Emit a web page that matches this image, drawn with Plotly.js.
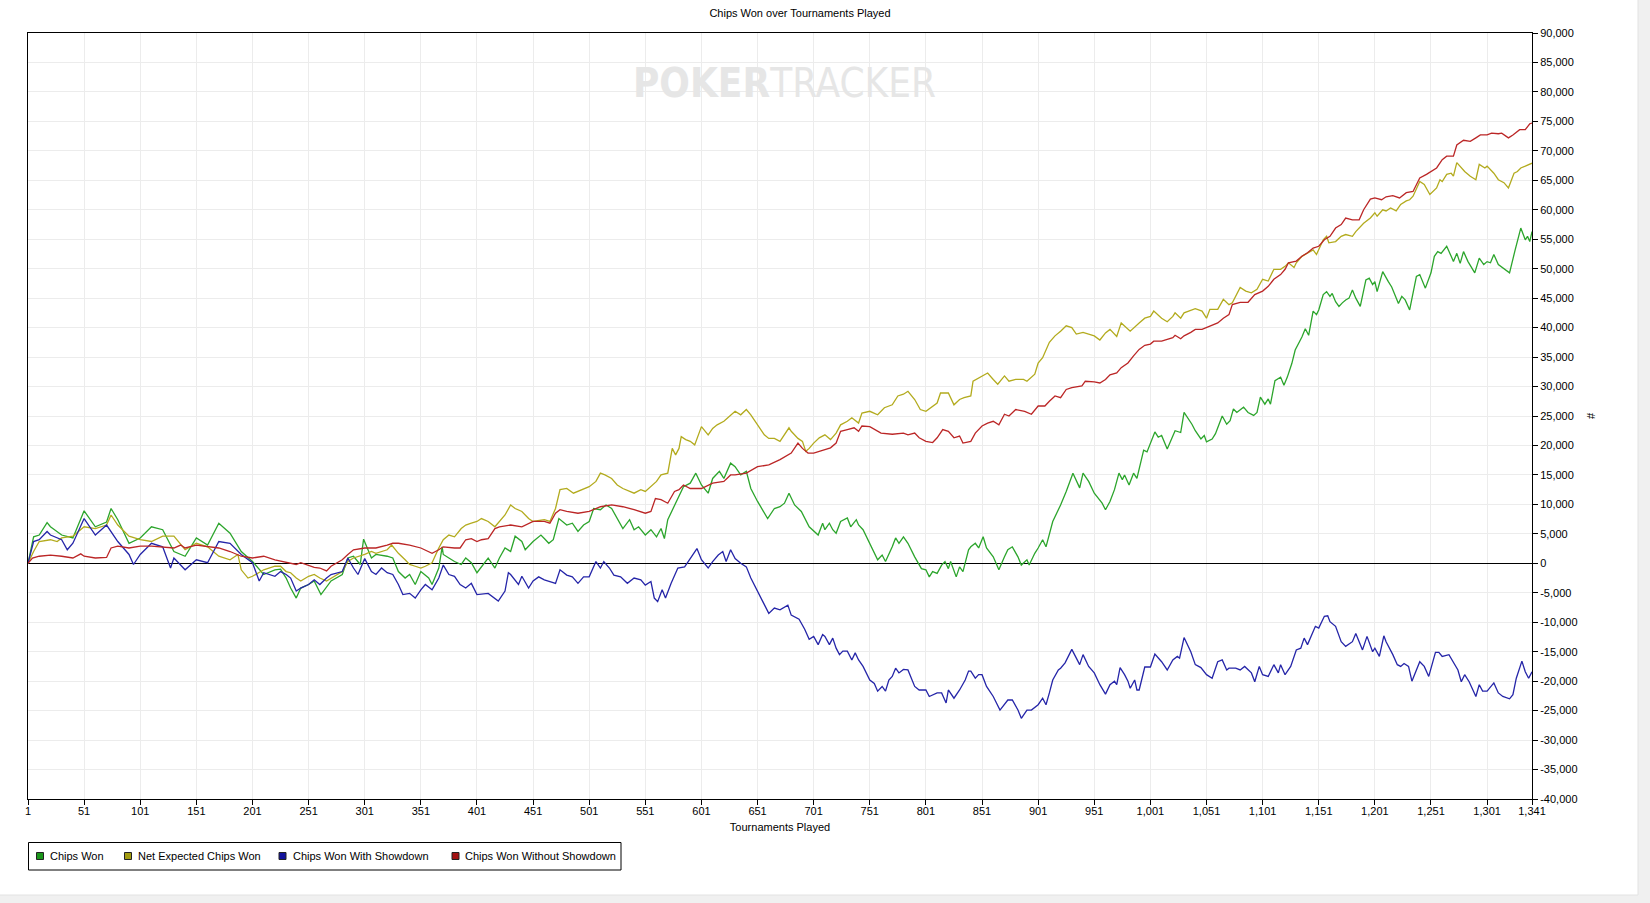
<!DOCTYPE html>
<html>
<head>
<meta charset="utf-8">
<script src="https://cdn.plot.ly/plotly-3.0.1.min.js"></script>
<style>
  html, body { margin: 0; padding: 0; background: #ffffff; }
  #chart { width: 1650px; height: 903px; }
</style>
</head>
<body>
<div id="chart"></div>
<script>
// ---------- DATA ----------
const chartTitle = "Chips Won over Tournaments Played";
const xAxisTitle = "Tournaments Played";
const yAxisTitle = "#";
const seriesNames = ["Chips Won", "Net Expected Chips Won", "Chips Won With Showdown", "Chips Won Without Showdown"];

const xTickVals = [1, 51, 101, 151, 201, 251, 301, 351, 401, 451, 501, 551, 601, 651, 701, 751, 801, 851, 901, 951, 1001, 1051, 1101, 1151, 1201, 1251, 1301, 1341];
const xTickText = ["1", "51", "101", "151", "201", "251", "301", "351", "401", "451", "501", "551", "601", "651", "701", "751", "801", "851", "901", "951", "1,001", "1,051", "1,101", "1,151", "1,201", "1,251", "1,301", "1,341"];
const yTickVals = [90000, 85000, 80000, 75000, 70000, 65000, 60000, 55000, 50000, 45000, 40000, 35000, 30000, 25000, 20000, 15000, 10000, 5000, 0, -5000, -10000, -15000, -20000, -25000, -30000, -35000, -40000];
const yTickText = ["90,000", "85,000", "80,000", "75,000", "70,000", "65,000", "60,000", "55,000", "50,000", "45,000", "40,000", "35,000", "30,000", "25,000", "20,000", "15,000", "10,000", "5,000", "0", "-5,000", "-10,000", "-15,000", "-20,000", "-25,000", "-30,000", "-35,000", "-40,000"];

// Chips Won (green)
const chipsWonT = [1,6,11,18,21,31,41,51,61,71,75,81,91,101,111,121,131,141,151,161,171,181,191,201,211,221,226,231,235,240,244,251,256,262,271,281,286,291,297,300,307,311,321,326,331,337,341,346,351,358,361,367,370,371,376,381,387,391,396,401,411,417,421,426,431,435,441,444,451,458,461,465,469,474,481,486,491,496,501,505,511,516,521,526,531,537,541,545,551,556,561,565,568,571,577,581,585,591,596,601,607,611,617,621,627,631,636,641,645,651,660,666,671,675,679,684,690,697,701,705,709,711,715,718,721,725,731,734,739,741,745,751,758,762,765,771,774,777,781,785,791,797,801,804,807,811,815,818,821,823,828,831,834,839,841,845,848,852,855,861,866,871,874,878,883,886,891,893,898,901,905,908,911,914,921,926,932,938,941,946,951,958,961,965,969,973,976,978,982,986,989,995,998,1005,1008,1011,1016,1021,1023,1028,1031,1038,1041,1046,1049,1051,1056,1059,1065,1069,1072,1075,1078,1084,1088,1093,1096,1099,1103,1106,1108,1112,1117,1120,1123,1127,1130,1136,1139,1142,1146,1149,1151,1155,1158,1161,1163,1166,1169,1172,1175,1178,1181,1184,1188,1193,1196,1199,1201,1203,1208,1213,1216,1222,1225,1228,1232,1238,1241,1246,1251,1254,1257,1260,1265,1269,1271,1274,1277,1280,1284,1290,1294,1298,1301,1304,1307,1311,1315,1321,1326,1331,1335,1337,1339,1341];
const chipsWonV = [0,4500,4800,6900,6200,4800,4300,8900,6200,7000,9300,7400,3400,4300,6200,5700,2000,1200,4300,3100,6800,5100,2000,300,-1900,-1100,-1000,-2500,-4200,-5900,-4200,-3600,-3000,-5300,-3000,-1900,900,1200,-200,4100,900,1500,1200,900,-1400,-2500,-1900,-3600,-1400,-2500,-3600,-800,2800,1500,900,300,-200,900,100,-1600,900,-800,900,2600,2000,4600,3700,2300,3700,4800,4200,3400,4000,7600,6500,6800,5400,6500,7100,9300,9100,9900,9300,7600,5900,7400,5700,6200,4800,5700,4500,5900,4200,7400,9900,11600,13000,13600,15300,13300,11900,14400,15600,14400,17000,16400,15000,15600,12700,10500,7600,9300,9600,10200,11900,9900,8800,6200,5500,4800,6800,5700,6800,5700,5100,7100,7700,6200,7400,6500,5700,3400,600,1400,300,2800,4300,3400,4500,3400,1100,-900,-1100,-2300,-1400,-1700,-300,300,-900,300,-2300,-600,-1400,2300,2800,3400,2600,4500,2600,1100,-1100,1100,2300,2800,1100,-300,600,-300,1700,2600,4000,2800,5100,7100,9900,12200,15300,12800,15300,13900,11900,10200,9100,10500,12500,15300,14200,15000,13300,15300,14400,19200,18900,22300,21400,21700,19400,21700,22500,22200,25600,23600,22500,21100,21700,20600,21100,22000,25000,23600,24200,26200,25600,26500,25600,25100,25600,28200,27000,27900,27000,31000,31600,30200,31600,33900,36200,38400,39800,38700,42800,42200,43000,45600,46100,45300,45800,44400,43600,44200,44700,45000,46400,45000,43600,48100,48400,47300,47800,46100,49500,47800,46900,44100,45300,44700,43000,48700,49000,46700,49300,52100,52900,52600,53800,52100,51200,52600,50900,52900,51200,49300,51800,50700,51200,51000,52400,50700,50100,49300,53200,56900,54900,55500,54600,56300];

// Net Expected Chips Won (olive / yellow)
const netExpT = [1,6,11,21,27,31,41,51,61,71,75,81,91,101,111,121,131,137,141,151,161,171,181,188,191,197,201,211,221,226,231,235,240,244,251,256,261,267,271,281,286,291,301,307,311,321,325,331,337,341,346,351,355,361,367,371,376,381,387,391,396,401,405,411,417,421,426,431,435,441,447,451,461,466,471,475,481,487,491,501,507,511,515,521,526,531,541,547,551,556,561,565,571,575,578,581,583,587,591,595,598,601,607,611,615,621,624,631,636,641,645,651,657,661,666,671,675,679,681,687,691,694,697,701,706,711,716,721,725,731,735,741,744,751,758,764,771,776,781,785,791,796,801,807,811,814,821,826,831,835,841,843,851,856,861,865,871,875,881,888,891,898,901,905,911,916,921,926,931,935,941,946,951,956,961,965,971,975,981,983,991,996,1001,1004,1011,1016,1021,1023,1028,1031,1041,1047,1051,1054,1061,1066,1071,1074,1081,1086,1091,1096,1101,1106,1111,1117,1121,1124,1129,1131,1136,1141,1146,1149,1151,1155,1158,1160,1166,1171,1175,1181,1184,1191,1197,1201,1203,1208,1211,1215,1220,1224,1229,1232,1235,1238,1241,1245,1250,1256,1259,1261,1265,1269,1271,1274,1277,1281,1286,1291,1294,1299,1301,1307,1311,1316,1320,1325,1328,1331,1335,1341];
const netExpV = [0,2000,3700,4000,3700,4300,4600,6200,5900,6500,8200,6500,4600,4000,3700,4600,4600,3100,2300,3400,2800,1200,600,1500,-1100,-2500,-2200,-1100,-500,-500,-1400,-1600,-2500,-3000,-2200,-1900,-2500,-3000,-2500,-1400,300,900,1500,2000,1700,2300,3100,1700,600,-200,-500,-800,-500,100,2600,4000,4800,4500,5900,6500,6800,7100,7600,7100,6200,7100,8200,9900,9300,8800,7600,7100,7400,7100,9300,12500,12700,11900,12200,13000,13900,15300,15000,14400,13300,12700,11900,12500,12200,13000,13900,15000,15300,19500,18400,19500,21500,21000,20700,20100,21800,23200,21800,22900,23500,24100,24600,25800,25200,26100,25200,23500,21800,21200,21200,20700,21800,23000,22400,21200,20700,19000,19500,20400,21300,21800,21000,22100,23500,24100,24700,23800,25500,25800,25200,26400,26900,28400,28700,29200,27800,26100,25800,26700,27200,28900,28900,26900,27800,28100,28400,30900,31800,32300,31200,30400,31800,30900,31200,31200,30900,32100,34000,34900,37500,38600,39400,40300,40000,38900,39200,38900,38600,37900,39100,39700,38500,40800,39700,39400,40800,41600,41900,42800,41600,41000,41900,42500,41600,42500,43200,42800,41600,43100,43100,44800,43900,44200,46800,46200,45900,46500,48200,47900,49900,49900,50400,51000,50200,51000,52100,52700,53200,52400,53200,54900,55500,54400,54600,55500,55800,55500,56300,57700,58600,59500,58900,60000,59800,60300,59800,60900,61500,61700,62300,63700,64800,64300,62600,63700,65100,64800,66000,66200,65700,68000,67400,66500,65700,65100,67700,67100,67400,66200,65100,64600,63700,66200,66500,67100,67400,67900];

// Chips Won With Showdown (blue)
const withSdT = [1,6,11,18,21,31,36,41,51,61,71,81,86,91,95,101,111,121,128,131,141,151,161,171,181,191,201,207,211,221,226,231,235,240,244,251,256,261,267,271,281,286,291,295,301,307,311,316,321,326,331,335,341,346,351,355,361,367,371,376,381,386,391,396,401,411,420,426,429,431,438,441,447,451,456,461,466,471,475,481,486,491,496,501,507,511,514,519,523,529,535,541,547,551,556,559,562,566,569,574,580,586,591,597,601,607,611,616,620,623,627,631,636,641,645,651,657,661,666,671,678,681,688,693,697,701,705,709,711,715,718,721,724,727,731,735,738,741,745,751,755,758,762,765,768,771,774,777,781,785,791,795,801,804,811,815,819,821,826,831,836,839,841,845,848,851,855,861,867,871,874,878,883,886,891,895,901,905,908,911,914,919,921,925,931,938,941,946,951,956,961,965,969,971,974,978,981,983,987,989,991,996,1001,1005,1008,1011,1016,1021,1025,1027,1031,1037,1041,1046,1051,1056,1061,1065,1069,1071,1077,1081,1085,1091,1094,1098,1101,1106,1111,1115,1117,1121,1126,1131,1135,1138,1141,1148,1151,1156,1159,1161,1166,1171,1175,1181,1184,1190,1194,1199,1201,1205,1209,1211,1217,1221,1224,1227,1231,1234,1241,1245,1249,1255,1258,1261,1267,1271,1275,1278,1281,1285,1291,1294,1297,1301,1304,1307,1311,1315,1321,1324,1327,1332,1335,1338,1341];
const withSdV = [0,3700,4000,5400,4800,4000,2300,3400,7600,4800,6500,3700,2600,1500,-200,1500,3400,2800,-800,900,-1100,600,100,3700,3400,1500,100,-3000,-1600,-2200,-1400,-1900,-2500,-4700,-4200,-3600,-2800,-3600,-2500,-1900,-1400,900,-800,-1900,800,-1400,-1900,-800,-1600,-1900,-3600,-5300,-5100,-5900,-4500,-3600,-4500,-2500,-300,-1900,-2200,-3600,-4200,-3400,-5300,-5100,-6400,-4700,-1600,-1900,-3600,-2200,-4200,-3000,-2300,-2800,-3100,-3400,-1100,-2000,-2300,-3400,-2300,-2300,300,-800,300,-800,-2000,-2300,-3400,-2500,-2800,-3700,-3100,-5900,-6500,-4500,-5900,-3400,-800,-600,800,2500,600,-800,300,1400,2000,300,2300,800,0,-600,-2500,-4800,-7100,-8500,-7600,-7900,-7100,-8800,-9500,-11200,-12900,-12400,-13800,-12100,-12400,-13800,-12700,-14400,-15500,-14900,-14900,-16400,-15200,-16400,-17500,-19800,-20400,-21700,-20900,-21700,-19800,-19200,-17800,-18600,-18000,-18100,-20900,-21500,-21500,-22600,-22000,-22000,-23700,-21500,-22900,-21500,-19800,-18300,-18300,-19500,-18900,-18900,-20900,-22600,-24900,-24000,-23200,-23200,-24900,-26300,-24900,-24900,-24000,-22900,-24000,-22000,-19800,-18100,-17800,-16900,-14600,-17200,-15500,-17500,-18600,-20600,-22200,-20600,-20000,-20600,-17700,-18900,-20000,-21200,-19800,-21500,-21500,-17600,-17600,-15400,-16100,-16700,-18100,-16400,-15800,-16100,-12600,-15000,-17200,-17700,-18900,-19500,-16700,-16400,-18100,-17800,-17800,-18100,-17500,-18600,-20100,-17500,-18900,-19200,-17200,-18600,-17200,-18900,-17500,-14700,-14400,-12700,-13800,-10700,-11000,-9000,-8900,-9900,-10700,-13300,-14100,-13300,-11900,-14700,-12400,-15000,-14400,-15800,-12300,-13300,-15500,-17200,-17500,-17000,-17500,-20000,-16700,-17500,-19200,-15100,-15100,-15800,-15500,-16900,-18100,-20100,-18900,-20100,-22600,-20600,-21700,-21700,-20900,-20300,-22000,-22600,-23000,-22300,-19500,-16600,-18400,-19500,-18400];

// Chips Won Without Showdown (red)
const withoutSdT = [1,5,11,21,31,41,48,51,61,71,75,81,91,101,111,121,131,137,141,151,161,171,181,191,201,211,221,228,235,240,244,251,256,261,267,271,281,286,291,301,311,321,326,331,341,351,361,367,371,381,386,391,396,401,405,411,417,421,431,441,451,461,466,471,475,481,491,501,511,521,531,541,551,556,560,565,571,577,581,585,591,601,611,621,627,631,641,651,661,671,681,687,691,696,701,711,716,721,725,731,737,741,744,751,761,771,781,785,791,795,801,807,811,816,821,826,831,834,841,845,851,856,861,866,871,875,881,889,895,901,907,911,916,921,926,931,940,943,951,956,961,965,971,975,981,986,991,996,1001,1004,1011,1021,1023,1028,1031,1037,1041,1047,1051,1056,1061,1066,1071,1074,1081,1088,1094,1101,1106,1111,1117,1121,1124,1131,1136,1141,1146,1151,1156,1161,1166,1171,1175,1181,1187,1191,1197,1201,1207,1211,1217,1223,1229,1235,1238,1241,1247,1251,1256,1261,1265,1271,1274,1280,1286,1291,1295,1301,1305,1311,1314,1320,1324,1330,1335,1339,1341];
const withoutSdV = [0,900,1200,1400,1200,900,1600,1200,900,1000,2600,2900,2600,2900,2900,2700,2600,3100,2600,3100,2900,2600,2000,1200,900,1200,600,300,-100,-200,100,-300,-700,-800,-1300,-500,600,1500,2300,2600,2600,3100,3400,3400,3100,2600,1700,2300,2800,2600,2600,4000,4200,3700,4000,4200,5900,6200,6500,6200,7100,7100,6800,8500,9100,8800,8500,8800,9600,9900,9600,9100,8500,8800,11000,10800,10200,12200,12500,13300,12700,12700,13600,13900,15000,15000,15300,16400,16700,17600,18700,20400,19500,18700,18700,19300,19600,20400,22400,22700,23000,22400,23300,23200,22100,21900,22100,21800,22100,21300,20700,20500,21300,22700,22400,21300,21600,20400,20700,22100,23300,23800,24100,23500,25300,25000,26100,25800,25300,26700,26700,27500,28400,28100,29500,29800,30100,30900,30800,30600,31200,32000,32300,33200,34000,35200,36300,37000,37200,37700,37700,38300,38700,38100,38600,39200,39700,39700,40000,40500,40800,41600,42200,43900,44300,44300,45600,46200,47000,48200,49000,49900,51000,51300,52100,52700,53500,53800,54900,55500,56900,57500,58600,58300,58300,60000,61800,62000,61700,62200,62400,62000,62900,63100,64300,65400,66000,66500,67100,68500,69100,69100,71000,71800,71600,72200,72700,72700,73000,72900,73000,72200,72700,73600,73600,74600,74700];

// ---------- STYLE / LAYOUT ----------
const FONT = "'Liberation Sans', Arial, sans-serif";
const lineColors = ["#2ca52c", "#b3ab1e", "#2525a8", "#bb2626"];
const keyColors  = ["#1a961a", "#a39c10", "#12129c", "#a31212"];

const W = 1650, H = 903;
const M = { l: 28, r: 118, t: 33, b: 104 };
const PW = W - M.l - M.r, PH = H - M.t - M.b;
const px = x => (x - M.l) / PW;                // pixel -> paper x
const py = y => (H - M.b - y) / PH;            // pixel -> paper y

const seriesT = [chipsWonT, netExpT, withSdT, withoutSdT];
const seriesV = [chipsWonV, netExpV, withSdV, withoutSdV];

const traces = seriesNames.map((name, i) => ({
  type: "scatter",
  mode: "lines",
  name: name,
  x: seriesT[i],
  y: seriesV[i],
  line: { color: lineColors[i], width: 1.3 },
  showlegend: false,
  hoverinfo: "skip"
}));

// legend (drawn as a boxed key below the plot)
const keySquareX = [40, 128, 282.5, 455.5];
const keyTextX   = [47.5, 135.5, 290.5, 462.5];
const keyY = 856;
const shapes = [
  { type: "rect", xref: "paper", yref: "paper", x0: px(28.5), x1: px(621), y0: py(870), y1: py(842.5),
    line: { color: "#000000", width: 1 }, fillcolor: "rgba(0,0,0,0)" },
  // window edge strips
  { type: "rect", xref: "paper", yref: "paper", x0: px(1638), x1: px(1652), y0: py(905), y1: py(-2),
    line: { width: 0 }, fillcolor: "#f0f0f0", layer: "below" },
  { type: "rect", xref: "paper", yref: "paper", x0: px(-2), x1: px(1652), y0: py(905), y1: py(895),
    line: { width: 0 }, fillcolor: "#f0f0f0", layer: "below" },
  { type: "line", xref: "paper", yref: "paper", x0: px(1638), x1: px(1638), y0: py(895), y1: py(-2),
    line: { color: "#e2e2e2", width: 1 } },
  { type: "line", xref: "paper", yref: "paper", x0: px(-2), x1: px(1638), y0: py(895), y1: py(895),
    line: { color: "#e2e2e2", width: 1 } }
];
const annotations = [];
seriesNames.forEach((name, i) => {
  shapes.push({ type: "rect", xref: "paper", yref: "paper",
    x0: px(keySquareX[i] - 3.5), x1: px(keySquareX[i] + 3.5), y0: py(keyY + 3.5), y1: py(keyY - 3.5),
    line: { color: "#222222", width: 1 }, fillcolor: keyColors[i] });
  annotations.push({ xref: "paper", yref: "paper", x: px(keyTextX[i]), y: py(keyY),
    xanchor: "left", yanchor: "middle", showarrow: false, text: name,
    font: { family: FONT, size: 11, color: "#000000" } });
});
// watermark
annotations.push({ xref: "paper", yref: "paper", x: px(631), y: py(83), xanchor: "left", yanchor: "middle",
  showarrow: false, text: "<b>POKER</b>TRACKER",
  font: { family: "'Liberation Sans Narrow', 'DejaVu Sans Condensed', 'Liberation Sans', sans-serif", size: 40, color: "#e6e6e6" } });

const layout = {
  width: W, height: H,
  margin: M,
  paper_bgcolor: "#ffffff",
  plot_bgcolor: "#ffffff",
  font: { family: FONT, size: 11, color: "#000000" },
  showlegend: false,
  title: { text: chartTitle, font: { family: FONT, size: 11, color: "#000000" },
    xref: "container", yref: "container", x: 800 / W, xanchor: "center", y: 1 - 13 / H, yanchor: "middle" },
  xaxis: {
    range: [1, 1341], tickmode: "array", tickvals: xTickVals, ticktext: xTickText,
    ticks: "outside", ticklen: 5, tickcolor: "#000000", tickwidth: 1, ticklabelstandoff: -3,
    showline: true, mirror: true, linecolor: "#000000", linewidth: 1,
    showgrid: true, gridcolor: "#ececec", gridwidth: 1, zeroline: false,
    tickfont: { family: FONT, size: 11, color: "#000000" },
    title: { text: xAxisTitle, font: { family: FONT, size: 11, color: "#000000" }, standoff: 7 }
  },
  yaxis: {
    side: "right",
    range: [-40000, 90000], tickmode: "array", tickvals: yTickVals, ticktext: yTickText,
    ticks: "outside", ticklen: 5, tickcolor: "#000000", tickwidth: 1,
    showline: true, mirror: true, linecolor: "#000000", linewidth: 1,
    showgrid: true, gridcolor: "#ececec", gridwidth: 1,
    zeroline: true, zerolinecolor: "#000000", zerolinewidth: 1,
    tickfont: { family: FONT, size: 11, color: "#000000" },
    title: { text: yAxisTitle, font: { family: FONT, size: 11, color: "#000000" }, standoff: 10 }
  },
  shapes: shapes,
  annotations: annotations
};

Plotly.newPlot("chart", traces, layout, { staticPlot: true, displayModeBar: false });
</script>
</body>
</html>
